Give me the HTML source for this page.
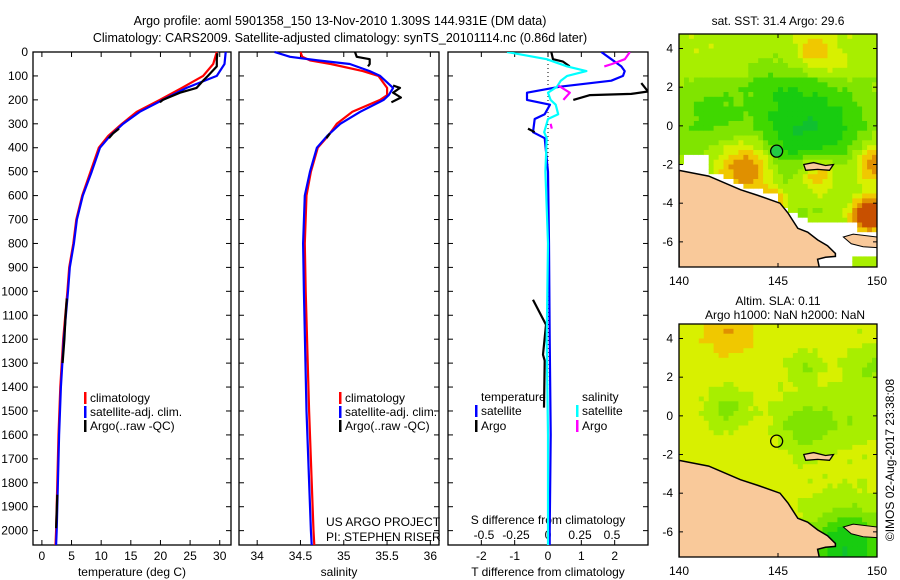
<!DOCTYPE html>
<html><head><meta charset="utf-8"><style>
html,body{margin:0;padding:0;background:#fff;}
svg{display:block;font-family:"Liberation Sans",sans-serif;}
text{font-size:12px;fill:#000;}
</style></head><body>
<svg id="c" width="900" height="580" viewBox="0 0 900 580">
<text x="340" y="25" text-anchor="middle" style="font-size:12.5px">Argo profile: aoml 5901358_150 13-Nov-2010 1.309S 144.931E (DM data)</text>
<text x="340" y="42" text-anchor="middle" style="font-size:12.5px">Climatology: CARS2009. Satellite-adjusted climatology: synTS_20101114.nc (0.86d later)</text>
<g id="maps"></g>
<g id="plots"></g>
</svg>
<script>
// ---------- data ----------
const depthT = [0,50,100,150,200,250,300,350,400,500,600,700,800,900,1000,1200,1400,1600,1800,2000,2060];
const tempClim = [29.5,28.9,27.2,23.6,19.9,16.0,13.5,11.2,9.6,8.2,6.8,5.8,5.3,4.6,4.3,3.6,3.1,2.8,2.6,2.4,2.3];
const tempSat  = [31.0,30.8,29.5,24.4,20.4,16.5,13.7,11.5,9.8,8.4,6.9,5.9,5.4,4.7,4.4,3.7,3.2,2.9,2.7,2.5,2.4];
const argoDepth = [5,30,60,100,120,150,170,200,210,null,320,340,360,null,1030,1100,1200,1300,null,1850,1990];
const tempArgo  = [29.6,29.5,29.5,28.0,27.2,26.1,23.3,20.4,19.9,null,13.0,12.0,11.3,null,4.2,4.0,3.8,3.5,null,2.6,2.4];

const depthS = [0,20,35,50,80,100,150,180,200,250,300,350,400,500,600,800,1000,1500,2000,2060];
const salClim = [34.50,34.52,34.61,34.85,35.22,35.40,35.50,35.50,35.42,35.10,34.92,34.82,34.70,34.62,34.57,34.55,34.56,34.60,34.65,34.66];
const salSat  = [34.20,34.38,34.70,35.07,35.30,35.42,35.57,35.52,35.46,35.19,34.96,34.81,34.69,34.61,34.55,34.53,34.54,34.57,34.62,34.63];
const salArgoDepth = [0,20,30,50,60,null,140,150,170,190,210,null,340,360];
const salArgo = [35.13,35.15,35.30,35.30,35.28,null,35.57,35.65,35.57,35.66,35.55,null,34.84,34.80];

const diffDepth = [0,30,60,80,100,120,145,170,200,220,260,280,335,360,500,800,1200,1600,2000,2060];
const tDiffSat = [1.6,1.9,2.2,2.3,2.25,1.9,0.36,-0.63,-0.63,0.06,-0.1,-0.4,-0.45,-0.1,0.0,0.03,0.05,0.08,0.05,0.05];
const sDiffSat = [-0.32,-0.01,0.15,0.3,0.15,0.1,0.07,0.0,0.02,0.06,0.08,0.0,-0.03,-0.01,-0.02,0.0,-0.01,0.0,0.0,0.0];
const tDiffArgoDepth = [0,30,40,60,null,130,165,175,180,200,null,320,335,null,1035,1140,1265,1290,1486];
const tDiffArgo = [0.1,0.15,0.45,0.65,null,2.8,3.0,2.5,1.26,0.76,null,-0.6,-0.4,null,-0.45,-0.06,-0.15,-0.1,-0.12];
const sDiffArgoDepth = [0,30,50,60,null,140,170,200,null,300,320];
const sDiffArgo = [0.64,0.6,0.5,0.44,null,0.08,0.17,0.12,null,0.02,0.03];

const depthTicks = [0,100,200,300,400,500,600,700,800,900,1000,1100,1200,1300,1400,1500,1600,1700,1800,1900,2000];
const tempTicks = [0,5,10,15,20,25,30];
const salTicks = [34,34.5,35,35.5,36];
const tDiffTicks = [-2,-1,0,1,2];
const sDiffTicks = [-0.5,-0.25,0,0.25,0.5];
const sDiffTickLabels = ['-0.5','-0.25','0','0.25','0.5'];
const latTicks = [4,2,0,-2,-4,-6];
const lonTicks = [140,145,150];

// ---------- helpers ----------
const NS='http://www.w3.org/2000/svg';
function mk(tag, attrs, parent){const e=document.createElementNS(NS,tag);for(const k in attrs)e.setAttribute(k,attrs[k]);parent.appendChild(e);return e;}
const plots=document.getElementById('plots');
const TOP=52, BOT=545;
const yD = d => TOP + d*(BOT-TOP)/2060;
const panels = {
  temp:{x0:33,x1:231,v0:-1.5,v1:31.9},
  sal:{x0:239,x1:439,v0:33.79,v1:36.1},
  diff:{x0:448,x1:648,v0:-3.0,v1:3.0}
};
function sx(p,v){return p.x0+(v-p.v0)*(p.x1-p.x0)/(p.v1-p.v0);}
const sDiffScale = v => 548 + v*128;

function line(depths, vals, xf, color, name, width){
  let d='', pen=false;
  for(let i=0;i<vals.length;i++){
    if(vals[i]===null||depths[i]===null){pen=false;continue;}
    d += (pen?'L':'M') + xf(vals[i]).toFixed(1)+','+yD(depths[i]).toFixed(1);
    pen=true;
  }
  const p=mk('path',{d:d,fill:'none',stroke:color,'stroke-width':width||2.2,'stroke-linejoin':'round'},plots);
  
  
  return p;
}
function frame(p,name){
  const g=mk('g',{},plots);
  
  
  mk('rect',{x:p.x0,y:TOP,width:p.x1-p.x0,height:BOT-TOP,fill:'none',stroke:'#000','stroke-width':1.3},g);
  return g;
}
function txt(x,y,s,anchor,parent,name){
  const t=mk('text',{x:x,y:y,'text-anchor':anchor||'start'},parent||plots);
  t.textContent=s;
  
  
  return t;
}
const defs=mk('defs',{},plots);
const cp=mk('clipPath',{id:'clipd'},defs);
mk('rect',{x:448,y:TOP,width:200,height:BOT-TOP},cp);

// ---------- frames & ticks ----------
frame(panels.temp,'temperature-panel');
frame(panels.sal,'salinity-panel');
frame(panels.diff,'difference-panel');
depthTicks.forEach(d=>{
  const y=yD(d);
  [panels.temp,panels.sal,panels.diff].forEach(p=>{
    mk('line',{x1:p.x0,x2:p.x0+5,y1:y,y2:y,stroke:'#000'},plots);
    mk('line',{x1:p.x1-5,x2:p.x1,y1:y,y2:y,stroke:'#000'},plots);
  });
  txt(28,y+4,String(d),'end',plots,'depth-tick-label');
});
tempTicks.forEach(v=>{const x=sx(panels.temp,v);
  mk('line',{x1:x,x2:x,y1:BOT,y2:BOT-5,stroke:'#000'},plots);mk('line',{x1:x,x2:x,y1:TOP,y2:TOP+5,stroke:'#000'},plots);
  txt(x,560,String(v),'middle',plots,'temp-tick-label');});
salTicks.forEach(v=>{const x=sx(panels.sal,v);
  mk('line',{x1:x,x2:x,y1:BOT,y2:BOT-5,stroke:'#000'},plots);mk('line',{x1:x,x2:x,y1:TOP,y2:TOP+5,stroke:'#000'},plots);
  txt(x,560,String(v),'middle',plots,'salinity-tick-label');});
tDiffTicks.forEach(v=>{const x=sx(panels.diff,v);
  mk('line',{x1:x,x2:x,y1:BOT,y2:BOT-5,stroke:'#000'},plots);mk('line',{x1:x,x2:x,y1:TOP,y2:TOP+5,stroke:'#000'},plots);
  txt(x,560,String(v),'middle',plots,'tdiff-tick-label');});
sDiffTicks.forEach((v,i)=>{txt(sDiffScale(v),539,sDiffTickLabels[i],'middle',plots,'sdiff-tick-label');});
txt(132,576,'temperature (deg C)','middle',plots,'temperature-axis-title');
txt(339,576,'salinity','middle',plots,'salinity-axis-title');
txt(548,576,'T difference from climatology','middle',plots,'tdiff-axis-title');
txt(548,524,'S difference from climatology','middle',plots,'sdiff-axis-title');
txt(326,526,'US ARGO PROJECT','start',plots,'project-label');
txt(326,541,'PI: STEPHEN RISER','start',plots,'pi-label');
mk('line',{x1:548,x2:548,y1:TOP,y2:BOT,stroke:'#000','stroke-dasharray':'1,3'},plots);

// ---------- series ----------
line(depthT,tempClim,v=>sx(panels.temp,v),'#f00','temp-climatology-line');
line(depthT,tempSat,v=>sx(panels.temp,v),'#00f','temp-satellite-line');
line(argoDepth,tempArgo,v=>sx(panels.temp,v),'#000','temp-argo-line');
line(depthS,salClim,v=>sx(panels.sal,v),'#f00','sal-climatology-line');
line(depthS,salSat,v=>sx(panels.sal,v),'#00f','sal-satellite-line');
line(salArgoDepth,salArgo,v=>sx(panels.sal,v),'#000','sal-argo-line');
line(diffDepth,tDiffSat,v=>sx(panels.diff,v),'#00f','tdiff-satellite-line').setAttribute('clip-path','url(#clipd)');
line(tDiffArgoDepth,tDiffArgo,v=>sx(panels.diff,v),'#000','tdiff-argo-line').setAttribute('clip-path','url(#clipd)');
line(diffDepth,sDiffSat,sDiffScale,'#0ff','sdiff-satellite-line').setAttribute('clip-path','url(#clipd)');
line(sDiffArgoDepth,sDiffArgo,sDiffScale,'#f0f','sdiff-argo-line').setAttribute('clip-path','url(#clipd)');

// ---------- legends ----------
function legend(x,y,color,label,name){
  const g=mk('g',{},plots);
  
  
  if(color) mk('rect',{x:x-6,y:y-10,width:2.5,height:12,fill:color},g);
  txt(x,y,label,'start',g,name+'-text');
}
legend(90,402,'#f00','climatology','legend-temp-climatology');
legend(90,416,'#00f','satellite-adj. clim.','legend-temp-satellite');
legend(90,430,'#000','Argo(..raw -QC)','legend-temp-argo');
legend(345,402,'#f00','climatology','legend-sal-climatology');
legend(345,416,'#00f','satellite-adj. clim.','legend-sal-satellite');
legend(345,430,'#000','Argo(..raw -QC)','legend-sal-argo');
legend(481,401,null,'temperature','legend-temperature-header');
legend(481,415,'#00f','satellite','legend-tdiff-satellite');
legend(481,430,'#000','Argo','legend-tdiff-argo');
legend(582,401,null,'salinity','legend-salinity-header');
legend(582,415,'#0ff','satellite','legend-sdiff-satellite');
legend(582,430,'#f0f','Argo','legend-sdiff-argo');

// ---------- maps ----------
const maps=document.getElementById('maps');
const mdefs=mk('defs',{},maps);
const MX0=679,MX1=877;
const mx = lon => MX0+(lon-140)*19.8;
const coastLon=[140,141.5,143.1,144,145.1,145.5,146,146.5,147,147.5,147.9,147.9,147.4,147.0,147.1];
const coastLat=[-2.3,-2.6,-3.3,-3.6,-4.0,-4.5,-5.3,-5.5,-5.9,-6.2,-6.6,-6.75,-6.8,-6.9,-7.4];
function coastAt(lon){for(let i=0;i<10;i++){if(lon<=coastLon[i+1]){const t=(lon-coastLon[i])/(coastLon[i+1]-coastLon[i]);return coastLat[i]+t*(coastLat[i+1]-coastLat[i]);}}return -9;}
const cmapV=[-1.1,-0.75,-0.45,-0.15,0.2,0.5,0.85,1.2,1.6];
const cmapC=['#10c030','#18cc10','#40d800','#80e400','#a8ee00','#d8f000','#f0c800','#e09000','#c85000'];
function col(v){for(let i=0;i<cmapV.length;i++){if(v<=cmapV[i])return cmapC[i];}return cmapC[cmapC.length-1];}
function g2(lon,lat,b){const dx=lon-b[0],dy=lat-b[1];return b[2]*Math.exp(-(dx*dx+dy*dy)/(2*b[3]*b[3]));}
const sstBlobs=[[146.5,-0.3,-1.1,2.0],[143.4,-2.2,1.4,1.0],[147,-2.5,1.2,0.8],[149.9,-2,1.3,0.75],[149.6,-4.6,2.0,0.65],[144.7,-3.9,1.1,0.5],[146.8,3.9,0.8,0.6],[148,3,0.3,0.6],[141.5,0.5,-0.5,1.2],[144.5,2.5,-0.3,1]];
const slaBlobs=[[142.5,0.3,-0.6,0.7],[146.3,-0.5,-0.7,1],[146.3,2.5,-0.5,0.5],[149.8,2.5,-0.5,0.8],[148.8,0,-0.4,1],[142.5,4.5,0.5,1],[148.5,-6.8,-1.4,1.4],[144,-1.5,0.15,1]];
function drawMap(top, bot, title, title2, blobs, base, whiteMask, name){
  const g=mk('g',{},maps);
  
  
  const cid='clip-'+name;
  const c=mk('clipPath',{id:cid},mdefs);
  mk('rect',{x:MX0,y:top,width:MX1-MX0,height:bot-top},c);
  const inner=mk('g',{'clip-path':'url(#'+cid+')'},g);
  const my = lat => top+(4.75-lat)*(bot-top)/(4.75+7.3);
  const step=0.25;
  for(let lon=140;lon<150;lon+=step){
    for(let lat=4.75;lat>-7.3;lat-=step){
      let v=base(lat);
      blobs.forEach(b=>v+=g2(lon+step/2,lat-step/2,b));
      v+=((Math.sin(lon*7.1+lat*3.3)+Math.cos(lon*2.3-lat*5.7))*0.04);
      let cc=col(v);
      if(whiteMask && whiteMask(lon+step/2,lat-step/2)) cc='#fff';
      mk('rect',{x:mx(lon).toFixed(1),y:my(lat).toFixed(1),width:(step*19.8+0.6).toFixed(1),height:(step*(bot-top)/12.05+0.6).toFixed(1),fill:cc},inner);
    }
  }
  let d='M'+mx(140)+','+my(coastLat[0]);
  for(let i=1;i<coastLon.length;i++) d+='L'+mx(coastLon[i]).toFixed(1)+','+my(coastLat[i]).toFixed(1);
  d+='L'+mx(140)+','+my(-7.4)+'Z';
  const land=mk('path',{d:d,fill:'#f9c99a',stroke:'#000','stroke-width':1.5},inner);
  
  
  const nb=mk('path',{d:'M'+mx(148.3)+','+my(-5.75)+'L'+mx(148.8)+','+my(-5.6)+'L'+mx(150)+','+my(-5.75)+'L'+mx(150)+','+my(-6.3)+'L'+mx(149.3)+','+my(-6.25)+'L'+mx(148.7)+','+my(-6.1)+'Z',fill:'#f9c99a',stroke:'#000','stroke-width':1},inner);
  
  
  const isl=mk('path',{d:'M'+mx(146.3)+','+my(-2.0)+'L'+mx(146.8)+','+my(-1.9)+'L'+mx(147.4)+','+my(-2.05)+'L'+mx(147.8)+','+my(-2.0)+'L'+mx(147.6)+','+my(-2.3)+'L'+mx(147.0)+','+my(-2.25)+'L'+mx(146.4)+','+my(-2.3)+'Z',fill:'#f9c99a',stroke:'#000','stroke-width':1.3},inner);
  
  
  mk('rect',{x:MX0,y:top,width:MX1-MX0,height:bot-top,fill:'none',stroke:'#000','stroke-width':1.3},g);
  latTicks.forEach(l=>{const y=my(l);
    mk('line',{x1:MX0,x2:MX0+4,y1:y,y2:y,stroke:'#000'},g);mk('line',{x1:MX1-4,x2:MX1,y1:y,y2:y,stroke:'#000'},g);
    txt(673,y+4,String(l),'end',g,'lat-tick-label');});
  lonTicks.forEach(l=>{const x=mx(l);
    mk('line',{x1:x,x2:x,y1:top,y2:top+4,stroke:'#000'},g);mk('line',{x1:x,x2:x,y1:bot,y2:bot-4,stroke:'#000'},g);
    txt(x,bot+18,String(l),'middle',g,'lon-tick-label');});
  txt(778,top-(title2?19:9),title,'middle',g,name+'-title');
  if(title2) txt(785,top-5,title2,'middle',g,name+'-subtitle');
  return {g,my};
}
const m1=drawMap(34,267,'sat. SST: 31.4 Argo: 29.6',null,sstBlobs,lat=>lat>2.5?0.15:-0.05,(lon,lat)=>{
  const c=coastAt(lon);
  if(lon<140.3 && lat<-1.6 && lat>-2.0) return false;
  if(lon<141.6 && lat<-1.6) return true;
  if(lon<143.5 && lat<c+0.25) return true;
  if(lon>=143.5 && lon<145 && lat<c+0.35) return true;
  if(lon>=145 && lon<146.8 && lat< -4.1-(lon-145)*0.5) return true;
  if(lon>=146.8 && lat<-4.95 && !(lon>148.8 && lat<-6.85) && !(lon>149 && lat>-5.5)) return true;
  return false;
},'sst-map');
const a1=mk('circle',{cx:mx(144.931),cy:m1.my(-1.309),r:6,fill:'#22cc44',stroke:'#000','stroke-width':1.3},m1.g);


const m2=drawMap(324,557,'Altim. SLA: 0.11','Argo h1000: NaN h2000: NaN',slaBlobs,lat=>0.3,null,'sla-map');
const a2=mk('circle',{cx:mx(144.931),cy:m2.my(-1.309),r:6,fill:'none',stroke:'#000','stroke-width':1.3},m2.g);


const cr=txt(0,0,'©IMOS 02-Aug-2017 23:38:08','middle',maps,'copyright-timestamp');
cr.setAttribute('transform','translate(894,460) rotate(-90)');
</script>
</body></html>
